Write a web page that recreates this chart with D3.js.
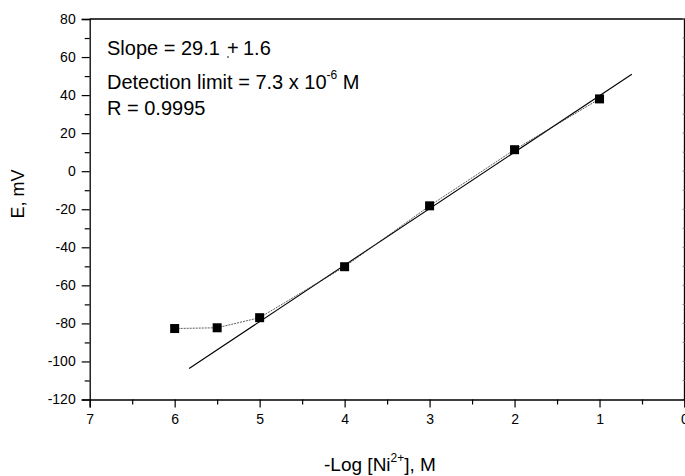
<!DOCTYPE html>
<html>
<head>
<meta charset="utf-8">
<script src="https://cdn.jsdelivr.net/npm/d3@7"></script>
<style>
  body { margin: 0; background: #fff; }
  svg { font-family: "Liberation Sans", Arial, sans-serif; }
</style>
</head>
<body>
<svg width="685" height="476"></svg>
<script>
// measured points
var logConc = [6, 5.5, 5, 4, 3, 2, 1];
var potential = [-82.7, -82.3, -77, -50.2, -18.2, 11.3, 38];
// linear fit, drawn between its two ends
var fitX = [5.83, 0.62];
var fitY = [-103.7, 51];
var xTicks = [7, 6, 5, 4, 3, 2, 1, 0];
var yTicks = [80, 60, 40, 20, 0, -20, -40, -60, -80, -100, -120];

var svg = d3.select("svg"),
  mLeft = 89.7,
  mRight = 684.5,
  mTop = 19,
  mBottom = 399.5;

var x = d3.scaleLinear().domain([7, 0]).range([mLeft, mRight]);
var y = d3.scaleLinear().domain([-120, 80]).range([mBottom, mTop]);

// frame: top and right sides
svg
  .append("path")
  .attr("d", "M" + mLeft + "," + mTop + "H" + mRight + "V" + mBottom)
  .attr("fill", "none")
  .attr("stroke", "#000")
  .attr("stroke-width", 1.3);

// faint ticks on the right side
svg
  .append("g")
  .selectAll("line")
  .data(d3.range(-120, 81, 10))
  .enter()
  .append("line")
  .attr("x1", mRight - 2)
  .attr("x2", mRight)
  .attr("y1", (d) => y(d))
  .attr("y2", (d) => y(d))
  .attr("stroke", "#888");

// minor ticks
var xMinor = d3.range(0.5, 7, 1);
var yMinor = d3.range(-110, 80, 20);
var plain = (d) => String(d); // keep the ascii hyphen

svg
  .append("g")
  .attr("transform", "translate(0," + mBottom + ")")
  .call(d3.axisBottom(x).tickValues(xTicks).tickFormat(plain).tickSize(8).tickPadding(7));
svg
  .append("g")
  .attr("transform", "translate(0," + mBottom + ")")
  .call(d3.axisBottom(x).tickValues(xMinor).tickFormat("").tickSize(5))
  .select(".domain")
  .remove();

svg
  .append("g")
  .attr("transform", "translate(" + mLeft + ",0)")
  .call(d3.axisLeft(y).tickValues(yTicks).tickFormat(plain).tickSize(8).tickPadding(6));
svg
  .append("g")
  .attr("transform", "translate(" + mLeft + ",0)")
  .call(d3.axisLeft(y).tickValues(yMinor).tickFormat("").tickSize(5))
  .select(".domain")
  .remove();

svg.selectAll(".tick text").style("font-size", "14px").attr("fill", "#000");
svg.selectAll(".domain").attr("stroke-width", 1.3);
svg.selectAll(".tick line").attr("stroke-width", 1.2);

// fit line
svg
  .append("line")
  .attr("x1", x(fitX[0]))
  .attr("y1", y(fitY[0]))
  .attr("x2", x(fitX[1]))
  .attr("y2", y(fitY[1]))
  .attr("stroke", "#000")
  .attr("stroke-width", 1.1);

// data line, dotted
var pts = logConc.map((d, i) => [d, potential[i]]);
svg
  .append("path")
  .datum(pts)
  .attr("d", d3.line().x((d) => x(d[0])).y((d) => y(d[1])))
  .attr("fill", "none")
  .attr("stroke", "#333")
  .attr("stroke-width", 0.8)
  .attr("stroke-dasharray", "2,1");

svg
  .append("g")
  .selectAll("rect")
  .data(pts)
  .enter()
  .append("rect")
  .attr("x", (d) => x(d[0]) - 4.5)
  .attr("y", (d) => y(d[1]) - 4.5)
  .attr("width", 9)
  .attr("height", 9)
  .attr("fill", "#000");

// annotation text
var note = svg.append("g").style("font-size", "20px").attr("fill", "#000");
var t1 = note.append("text").attr("y", 55);
t1.append("tspan").attr("x", 107).text("Slope = 29.1");
t1.append("tspan").attr("x", 227).text("+");
t1.append("tspan").attr("x", 243).text("1.6");
note.append("circle").attr("cx", 228).attr("cy", 57).attr("r", 0.9).attr("fill", "#555");

var t2 = note.append("text").attr("x", 107).attr("y", 89);
t2.append("tspan").text("Detection limit = 7.3 x 10");
t2.append("tspan").attr("dy", -10).style("font-size", "12px").text("-6");
t2.append("tspan").attr("dy", 10).text(" M");

note.append("text").attr("x", 107).attr("y", 115).text("R = 0.9995");

// axis titles
svg
  .append("text")
  .attr("transform", "translate(23.5,194) rotate(-90)")
  .attr("text-anchor", "middle")
  .style("font-size", "18px")
  .text("E, mV");

var xt = svg
  .append("text")
  .attr("x", 380)
  .attr("y", 471)
  .attr("text-anchor", "middle")
  .style("font-size", "19px");
xt.append("tspan").text("-Log [Ni");
xt.append("tspan").attr("dy", -9).style("font-size", "12px").text("2+");
xt.append("tspan").attr("dy", 9).text("], M");
</script>
</body>
</html>
